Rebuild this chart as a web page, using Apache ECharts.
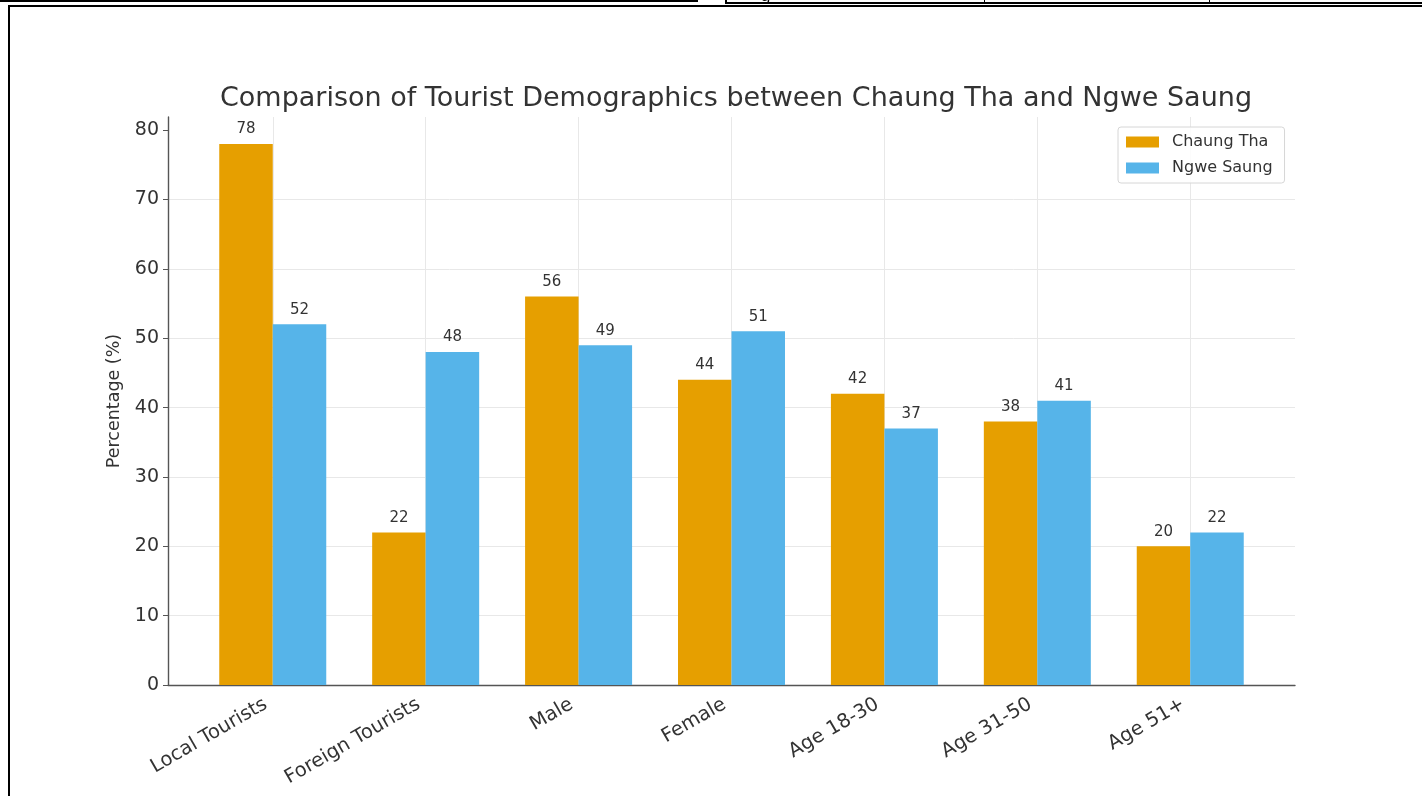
<!DOCTYPE html>
<html>
<head>
<meta charset="utf-8">
<title>Tourist Demographics</title>
<script src="https://cdn.jsdelivr.net/npm/echarts@6/dist/echarts.min.js"></script>
<style>
  html, body { margin: 0; padding: 0; background: #fff; }
  #chart { position: absolute; left: 0; top: 0; width: 1422px; height: 796px; }
  .rule { position: absolute; background: #000; z-index: 5; }
  .clip { position: absolute; overflow: hidden; z-index: 5; }
  .clip span { position: absolute; font-family: "DejaVu Sans", sans-serif; font-size: 17px; color: #000; }
</style>
</head>
<body>
<div id="chart"></div>
<!-- page frame around the figure -->
<div class="rule" style="left:0;top:0;width:698px;height:2px;"></div>
<div class="rule" style="left:725px;top:2px;width:697px;height:2px;"></div>
<div class="rule" style="left:725px;top:0;width:2px;height:4px;"></div>
<div class="rule" style="left:984px;top:0;width:1px;height:4px;"></div>
<div class="rule" style="left:1209px;top:0;width:1px;height:4px;"></div>
<div class="clip" style="left:760px;top:0;width:14px;height:4px;"><span style="left:0;top:-15px;">g</span></div>
<div class="rule" style="left:8px;top:5px;width:1414px;height:2px;"></div>
<div class="rule" style="left:8px;top:5px;width:2px;height:791px;"></div>
<script>
const categories = ['Local Tourists', 'Foreign Tourists', 'Male', 'Female', 'Age 18-30', 'Age 31-50', 'Age 51+'];
const chaungTha = [78, 22, 56, 44, 42, 38, 20];
const ngweSaung = [52, 48, 49, 51, 37, 41, 22];
const yTicks = [0, 10, 20, 30, 40, 50, 60, 70, 80];
const yMax = 81.9;

const FONT = 'DejaVu Sans';
const chart = echarts.init(document.getElementById('chart'), null, { renderer: 'canvas' });

const option = {
  animation: false,
  backgroundColor: 'transparent',
  textStyle: { fontFamily: FONT },
  title: {
    text: 'Comparison of Tourist Demographics between Chaung Tha and Ngwe Saung',
    left: 731,
    top: 80,
    textAlign: 'center',
    textStyle: { fontFamily: FONT, fontSize: 27, fontWeight: 'normal', color: '#333' }
  },
  legend: {
    orient: 'vertical',
    left: 1118,
    top: 127,
    padding: [7, 12, 7, 8],
    itemGap: 10,
    itemWidth: 33,
    itemHeight: 11,
    borderColor: '#d6d6d6',
    borderWidth: 1,
    borderRadius: 3,
    backgroundColor: 'rgba(255,255,255,0.85)',
    icon: 'rect',
    textStyle: { fontFamily: FONT, fontSize: 16, color: '#333', padding: [0, 0, 0, 8] },
    data: ['Chaung Tha', 'Ngwe Saung']
  },
  grid: [
    // axes frame, horizontal grid and y ticks
    { left: 168, right: 127, top: 117, bottom: 111 },
    // bars, one 153px band per category
    { left: 196.3, right: 155.3, top: 117, bottom: 111 }
  ],
  xAxis: [
    {
      type: 'value', gridIndex: 0, min: 0, max: 1,
      axisLine: { show: true, lineStyle: { color: '#555', width: 1.4 } },
      axisTick: { show: false },
      axisLabel: { show: false },
      splitLine: { show: false }
    },
    {
      type: 'category', gridIndex: 1, data: categories,
      axisLine: { show: false },
      axisTick: { show: false },
      splitLine: { show: false },
      axisLabel: {
        interval: 0, rotate: 30, margin: 14,
        padding: [0, 8, 0, 0],
        fontFamily: FONT, fontSize: 19.5, color: '#333'
      }
    }
  ],
  yAxis: [
    {
      type: 'value', gridIndex: 0, min: 0, max: yMax,
      name: 'Percentage (%)',
      nameLocation: 'middle',
      nameGap: 39,
      nameTextStyle: { fontFamily: FONT, fontSize: 17.5, color: '#333' },
      axisLine: { show: true, lineStyle: { color: '#555', width: 1.4 } },
      axisTick: { show: true, length: 5, customValues: yTicks, lineStyle: { color: '#555' } },
      axisLabel: { customValues: yTicks, margin: 9, fontFamily: FONT, fontSize: 19, color: '#333' },
      splitLine: { show: true, showMaxLine: false, lineStyle: { color: '#e8e8e8', width: 1 } }
    },
    {
      type: 'value', gridIndex: 1, min: 0, max: yMax, show: false,
      splitLine: { show: false }
    }
  ],
  series: [
    {
      // vertical grid lines through each category centre
      name: 'category grid',
      type: 'line',
      xAxisIndex: 1, yAxisIndex: 1,
      data: [],
      z: 0,
      silent: true,
      markLine: {
        silent: true,
        z: 0,
        symbol: 'none',
        label: { show: false },
        emphasis: { disabled: true },
        lineStyle: { color: '#e8e8e8', width: 1, type: 'solid' },
        data: categories.map(function (c) { return { xAxis: c }; })
      }
    },
    {
      name: 'Chaung Tha',
      type: 'bar',
      xAxisIndex: 1, yAxisIndex: 1,
      data: chaungTha,
      barWidth: 53.5,
      barGap: '0%',
      itemStyle: { color: '#E69F00' },
      label: { show: true, position: 'top', distance: 7, fontFamily: FONT, fontSize: 15, color: '#333' }
    },
    {
      name: 'Ngwe Saung',
      type: 'bar',
      xAxisIndex: 1, yAxisIndex: 1,
      data: ngweSaung,
      barWidth: 53.5,
      barGap: '0%',
      itemStyle: { color: '#56B4E9' },
      label: { show: true, position: 'top', distance: 7, fontFamily: FONT, fontSize: 15, color: '#333' }
    }
  ]
};

chart.setOption(option);
</script>
</body>
</html>
